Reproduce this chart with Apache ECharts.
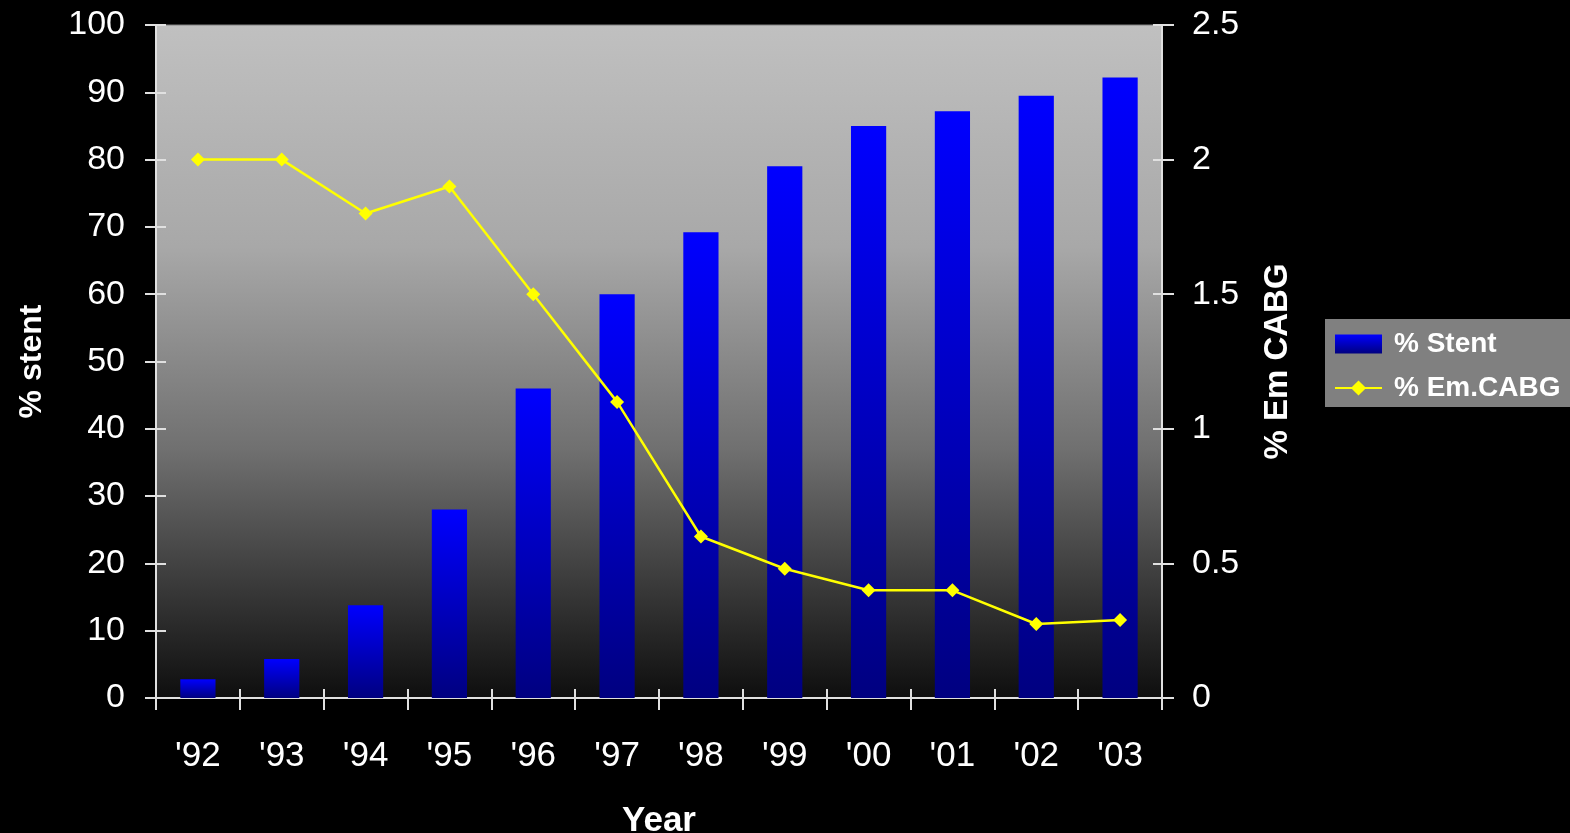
<!DOCTYPE html>
<html>
<head>
<meta charset="utf-8">
<script src="https://cdn.jsdelivr.net/npm/echarts@6/dist/echarts.min.js"></script>
<style>
html,body{margin:0;padding:0;background:#000;}
#main{width:1570px;height:833px;}
</style>
</head>
<body>
<div id="main"></div>
<script>
const years = ["'92","'93","'94","'95","'96","'97","'98","'99","'00","'01","'02","'03"];
const stentPct = [2.8, 5.8, 13.8, 28, 46, 60, 69.2, 79, 85, 87.2, 89.5, 92.2];
const emCabgPct = [2.0, 2.0, 1.8, 1.9, 1.5, 1.1, 0.6, 0.48, 0.4, 0.4, 0.275, 0.29];

const chart = echarts.init(document.getElementById('main'), null, {renderer: 'canvas'});
const font = 'Liberation Sans, Arial, sans-serif';
const axisLineStyle = {color: '#E0E0E0', width: 2};
const barGrad = new echarts.graphic.LinearGradient(0, 0, 0, 1, [
  {offset: 0, color: '#0000FF'},
  {offset: 1, color: '#000080'}
]);
const bgGrad = new echarts.graphic.LinearGradient(0, 0, 0, 1, [
  {offset: 0, color: '#C0C0C0'},
  {offset: 0.33, color: '#A8A8A8'},
  {offset: 0.63, color: '#707070'},
  {offset: 0.85, color: '#353535'},
  {offset: 1, color: '#0E0E0E'}
]);

chart.setOption({
  backgroundColor: '#000000',
  animation: false,
  textStyle: {fontFamily: font},
  grid: {
    left: 156, top: 25, right: 408, bottom: 135,
    outerBoundsMode: 'none', containLabel: false,
    show: true, backgroundColor: bgGrad, borderColor: '#808080', borderWidth: 1
  },
  legend: {
    left: 1325, top: 319,
    orient: 'vertical',
    backgroundColor: '#808080',
    padding: [11, 12, 5, 9],
    itemGap: 16,
    itemWidth: 47, itemHeight: 19,
    textStyle: {color: '#FFFFFF', fontSize: 28, fontWeight: 'bold', fontFamily: font, padding: [0, 0, 0, 7]},
    data: [{name: '% Stent', icon: 'rect'}, {name: '% Em.CABG'}]
  },
  xAxis: [{
    type: 'category', data: years, boundaryGap: true,
    name: 'Year', nameLocation: 'middle', nameGap: 106,
    nameTextStyle: {color: '#FFFFFF', fontSize: 35, fontWeight: 'bold', fontFamily: font},
    axisLine: {show: true, lineStyle: axisLineStyle},
    axisTick: {show: true, interval: 0, length: 12, lineStyle: axisLineStyle},
    axisLabel: {color: '#FFFFFF', fontSize: 35, margin: 41, interval: 0, fontFamily: font},
    splitLine: {show: false}
  }, {
    type: 'category', data: years, boundaryGap: true, position: 'bottom',
    axisLine: {show: false},
    axisTick: {show: true, inside: true, interval: 0, length: 9, lineStyle: axisLineStyle},
    axisLabel: {show: false}, splitLine: {show: false}
  }],
  yAxis: [{
    type: 'value', position: 'left', min: 0, max: 100, interval: 10,
    name: '% stent', nameLocation: 'middle', nameGap: 108, nameRotate: 90,
    nameTextStyle: {color: '#FFFFFF', fontSize: 32, fontWeight: 'bold', fontFamily: font},
    axisLine: {show: true, lineStyle: axisLineStyle},
    axisTick: {show: true, length: 11, lineStyle: axisLineStyle},
    axisLabel: {color: '#FFFFFF', fontSize: 34, margin: 31, fontFamily: font},
    splitLine: {show: false}
  }, {
    type: 'value', position: 'right', min: 0, max: 2.5, interval: 0.5,
    name: '% Em CABG', nameLocation: 'middle', nameGap: 99, nameRotate: 90,
    nameTextStyle: {color: '#FFFFFF', fontSize: 33, fontWeight: 'bold', fontFamily: font},
    axisLine: {show: true, lineStyle: axisLineStyle},
    axisTick: {show: true, length: 12, lineStyle: axisLineStyle},
    axisLabel: {color: '#FFFFFF', fontSize: 34, margin: 30, fontFamily: font},
    splitLine: {show: false}
  }, {
    type: 'value', position: 'left', min: 0, max: 100, interval: 10,
    axisLine: {show: false},
    axisTick: {show: true, inside: true, length: 10, lineStyle: axisLineStyle},
    axisLabel: {show: false}, splitLine: {show: false}
  }, {
    type: 'value', position: 'right', min: 0, max: 2.5, interval: 0.5,
    axisLine: {show: false},
    axisTick: {show: true, inside: true, length: 9, lineStyle: axisLineStyle},
    axisLabel: {show: false}, splitLine: {show: false}
  }],
  series: [{
    name: '% Stent', type: 'bar', xAxisIndex: 0, yAxisIndex: 0,
    data: stentPct, barWidth: '42%',
    itemStyle: {color: barGrad}
  }, {
    name: '% Em.CABG', type: 'line', xAxisIndex: 0, yAxisIndex: 1,
    data: emCabgPct,
    symbol: 'diamond', symbolSize: 14,
    lineStyle: {color: '#FFFF00', width: 2.5},
    itemStyle: {color: '#FFFF00'}
  }]
});
</script>
</body>
</html>
